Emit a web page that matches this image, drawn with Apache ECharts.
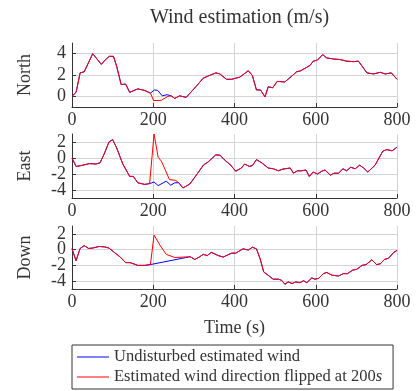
<!DOCTYPE html>
<html>
<head>
<meta charset="utf-8">
<script src="https://cdn.jsdelivr.net/npm/echarts@6/dist/echarts.min.js"></script>
<style>html,body{margin:0;padding:0;background:#fff}#c{width:418px;height:391px}</style>
</head>
<body>
<div id="c"></div>
<script>
// ---- data ----
const seriesNames = ['Undisturbed estimated wind', 'Estimated wind direction flipped at 200s'];
const panelNames = ['North', 'East', 'Down'];
const xTicks = [0, 200, 400, 600, 800];

const northT = [0,10,20,30,51,72,84,92,102,110,121,132,142,162,179,193,203,211,222,234,244,253,265,281,306,323,335,354,364,380,393,413,434,444,454,464,475,483,494,505,524,541,553,563,586,594,604,617,627,644,660,676,693,705,726,742,759,771,786,800];
const northV = [0,0.375,2.2,2.3,4.0,3.0,3.5,3.75,3.75,2.8,1.1,1.15,0.375,0.7,0.55,0.3,0.6,0.55,0.05,0.15,0.05,-0.2,0.05,-0.1,0.95,1.7,1.9,2.2,2.1,1.6,1.6,1.8,2.4,1.95,0.6,0.6,-0.05,0.9,0.8,1.4,1.35,1.9,2.3,2.4,2.9,3.3,3.4,3.9,3.6,3.5,3.45,3.3,3.25,3.3,2.2,2.1,2.25,2.1,2.2,1.6];
const northFlipT = [201,220,236];
const northFlipV = [-0.4,-0.37,0.0];
const northFlipRange = [193, 244];

const eastT = [0,10,22,43,59,69,80,91,100,110,125,142,151,162,179,191,202,212,232,243,253,263,273,290,308,324,335,354,364,379,388,403,417,425,436,444,454,467,483,496,508,518,537,545,555,565,576,584,594,604,615,623,636,645,656,667,676,686,697,708,718,728,746,765,775,788,800];
const eastV = [0,-1.05,-0.95,-0.7,-0.75,-0.6,0.6,2.0,2.3,1.25,-0.75,-2.3,-2.3,-3.1,-3.3,-3.2,-3.0,-3.45,-2.9,-3.4,-3.1,-3.1,-3.75,-3.25,-2.0,-0.85,-0.5,0.4,0.35,-0.4,-0.75,-1.65,-1.25,-0.75,-1.05,-0.95,-0.2,-0.6,-1.25,-1.35,-1.6,-1.4,-1.25,-1.9,-1.6,-1.6,-1.5,-2.3,-1.75,-2.0,-1.65,-1.5,-2.15,-1.9,-1.9,-1.35,-1.6,-1.15,-1.35,-0.9,-1.25,-1.75,-0.9,0.85,1.05,0.9,1.35];
const eastFlipT = [202,212,220,240,255,263];
const eastFlipV = [3.0,0.1,-0.4,-2.7,-2.8,-3.1];
const eastFlipRange = [191, 273];

const downT = [0,10,20,30,41,51,67,80,91,109,119,132,143,162,179,193,291,302,313,323,333,343,360,372,380,393,403,421,434,444,454,463,472,483,495,508,516,524,532,542,551,561,570,578,590,598,607,619,627,640,656,668,678,691,701,714,724,738,750,759,769,779,792,800];
const downV = [0.1,-1.4,0.15,0.5,0.15,0.2,0.4,0.35,0.2,-0.55,-0.95,-1.65,-1.65,-2.0,-2.0,-1.9,-0.9,-1.25,-0.95,-0.6,-0.75,-0.35,-0.75,-0.95,-0.75,-0.45,-0.45,0.1,-0.05,0.3,0.1,-1.15,-2.85,-3.25,-3.75,-3.75,-3.9,-4.4,-4.1,-4.3,-4.1,-4.2,-3.95,-4.2,-3.6,-3.75,-3.65,-3.05,-2.9,-3.25,-3.35,-3.05,-3.05,-2.6,-2.5,-2.0,-1.9,-1.3,-1.9,-1.8,-1.25,-1.1,-0.35,-0.1];
const downFlipT = [202,216,232,253,273];
const downFlipV = [1.85,0.6,-0.6,-1.0,-0.95];
const downFlipRange = [193, 291];

const yRanges = [[-1,5],[-5,3],[-5,3]];
const ySplits = [3,4,4];

// ---- build ----
function pairs(t, v){ return t.map((x,i)=>[x, v[i]]); }
function flipped(t, v, ft, fv, r){
  const base = pairs(t, v);
  const pre = base.filter(p => p[0] <= r[0]);
  const post = base.filter(p => p[0] >= r[1]);
  return pre.concat(pairs(ft, fv), post);
}
const panels = [
  [pairs(northT,northV), flipped(northT,northV,northFlipT,northFlipV,northFlipRange)],
  [pairs(eastT,eastV), flipped(eastT,eastV,eastFlipT,eastFlipV,eastFlipRange)],
  [pairs(downT,downV), flipped(downT,downV,downFlipT,downFlipV,downFlipRange)]
];

const FONT = 'Liberation Serif';
const TXT = '#333';
const grids = [
  {left:72, top:43, width:325, height:64},
  {left:72, top:134, width:325, height:64},
  {left:72, top:226, width:325, height:63}
];
const xAxes = grids.map((g,i)=>({
  type:'value', gridIndex:i, min:xTicks[0], max:xTicks[xTicks.length-1], interval:200,
  name: i===2 ? 'Time (s)' : '', nameLocation:'middle', nameGap:30,
  nameTextStyle:{fontFamily:FONT, fontSize:18, color:TXT},
  axisLine:{show:true, onZero:false, lineStyle:{color:'#333', width:1}},
  axisTick:{show:true, inside:true, length:4, lineStyle:{color:'#333'}},
  axisLabel:{fontFamily:FONT, fontSize:18, color:TXT, margin:4},
  splitLine:{show:true, lineStyle:{color:'#d4d4d4', width:1}}
}));
const yAxes = grids.map((g,i)=>({
  type:'value', gridIndex:i, min:yRanges[i][0], max:yRanges[i][1], splitNumber:ySplits[i],
  name: panelNames[i], nameLocation:'middle', nameGap:38,
  nameTextStyle:{fontFamily:FONT, fontSize:18, color:TXT},
  axisLine:{show:true, lineStyle:{color:'#333', width:1}},
  axisTick:{show:true, inside:true, length:4, lineStyle:{color:'#333'}},
  axisLabel:{fontFamily:FONT, fontSize:18, color:TXT, margin:6, showMinLabel:false, showMaxLabel:false},
  splitLine:{show:true, showMinLine:false, showMaxLine:false, lineStyle:{color:'#d4d4d4', width:1}}
}));
const series = [];
panels.forEach((p,i)=>{
  series.push({name:seriesNames[0], type:'line', xAxisIndex:i, yAxisIndex:i, data:p[0], symbol:'none', lineStyle:{color:'#0000ff', width:1}, itemStyle:{color:'#0000ff'}, z:2});
  series.push({name:seriesNames[1], type:'line', xAxisIndex:i, yAxisIndex:i, data:p[1], symbol:'none', lineStyle:{color:'#ff0000', width:1}, itemStyle:{color:'#ff0000'}, z:3});
});

const chart = echarts.init(document.getElementById('c'), null, {renderer:'canvas'});
chart.setOption({
  animation:false,
  backgroundColor:'#fff',
  title:{text:'Wind estimation (m/s)', left:234.5, top:3, textAlign:'center',
    textStyle:{fontFamily:FONT, fontSize:20, fontWeight:'normal', color:TXT}},
  legend:{data:seriesNames, orient:'vertical', left:72, top:345, height:40, icon:'rect', itemWidth:32, itemHeight:1, itemGap:2,
    padding:[3,11,3,5], borderColor:'#333', borderWidth:1, borderRadius:0,
    textStyle:{fontFamily:FONT, fontSize:16.5, color:TXT, lineHeight:18, rich:{i:{fontFamily:FONT, fontSize:16.5, fontStyle:'italic', color:TXT, lineHeight:18}}},
    formatter: n => n.endsWith('200s') ? n.slice(0,-1) + '{i|s}' : n},
  grid:grids, xAxis:xAxes, yAxis:yAxes, series:series
});
</script>
</body>
</html>
